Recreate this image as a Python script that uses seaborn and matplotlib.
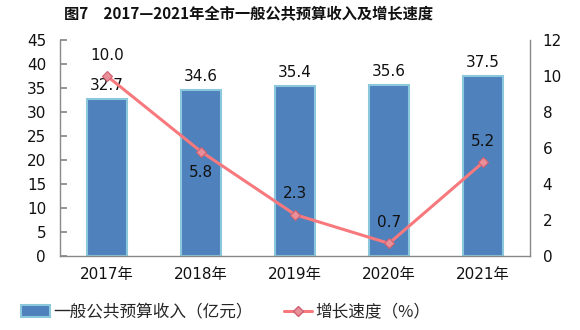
import matplotlib
matplotlib.use("Agg")
import matplotlib.pyplot as plt
import seaborn as sns
import pandas as pd
from matplotlib.patches import Patch
from matplotlib.lines import Line2D

years = ["2017年", "2018年", "2019年", "2020年", "2021年"]
revenue = [32.7, 34.6, 35.4, 35.6, 37.5]
growth = [10.0, 5.8, 2.3, 0.7, 5.2]
growth_label_above = [True, False, True, True, True]

sns.set_theme(style="white")
plt.rcParams['font.family'] = ['DejaVu Sans', 'Noto Sans CJK SC']

df = pd.DataFrame({"year": years, "revenue": revenue, "growth": growth})

fig = plt.figure(figsize=(5.8, 3.3), dpi=100)
ax = fig.add_axes([60/580, 1-256/330, 470/580, 216/330])

bar_color = "#4F81BD"
edge_color = "#8CC8DC"
line_color = "#F7797D"

sns.barplot(data=df, x="year", y="revenue", ax=ax, color=bar_color,
            width=0.43, edgecolor=edge_color, linewidth=1.5, saturation=1)
ax.set_ylim(0, 45)
ax.set_yticks(range(0, 46, 5))
ax.set_xlim(-0.5, 4.5)
ax.set_xlabel("")
ax.set_ylabel("")
for i, v in enumerate(revenue):
    ax.text(i, v + 1.2, f"{v:.1f}", ha="center", va="bottom", fontsize=11, color="#111111")

ax2 = ax.twinx()
sns.lineplot(x=list(range(len(years))), y=growth, ax=ax2, color=line_color,
             linewidth=2.2, marker="D", markersize=5.5,
             markerfacecolor="#E8909A", markeredgecolor="#D06070", markeredgewidth=0.8)
ax2.set_ylim(0, 12)
ax2.set_yticks(range(0, 13, 2))
ax2.set_xlim(-0.5, 4.5)
for i, (v, up) in enumerate(zip(growth, growth_label_above)):
    if up:
        ax2.text(i, v + 0.75, f"{v:.1f}", ha="center", va="bottom", fontsize=11, color="#111111")
    else:
        ax2.text(i, v - 0.75, f"{v:.1f}", ha="center", va="top", fontsize=11, color="#111111")

for a in (ax, ax2):
    for s in a.spines.values():
        s.set_visible(False)
ax.spines['left'].set_visible(True)
ax.spines['bottom'].set_visible(True)
ax2.spines['right'].set_visible(True)
for s in (ax.spines['left'], ax.spines['bottom'], ax2.spines['right']):
    s.set_color("#888888")
    s.set_linewidth(1.0)

ax.tick_params(axis='y', direction='in', length=5, color="#888888", left=True, labelsize=11, labelcolor="#111111", pad=10)
ax.tick_params(axis='x', length=0, labelsize=11, labelcolor="#111111", pad=8)
ax2.tick_params(axis='y', length=0, right=False, labelsize=11, labelcolor="#111111", pad=9)

fig.text(249/580, 1-14/330, "图7　2017—2021年全市一般公共预算收入及增长速度",
         ha="center", va="center", fontsize=11, fontweight="bold",
         family=['Noto Sans CJK SC', 'DejaVu Sans'], color="#111111")

handles = [Patch(facecolor=bar_color, edgecolor=edge_color, linewidth=1.5, label="一般公共预算收入（亿元）"),
           Line2D([0], [0], color=line_color, linewidth=2.2, marker="D", markersize=5,
                  markerfacecolor="#E8909A", markeredgecolor="#D06070", label="增长速度（%）")]
fig.legend(handles=handles, loc="center", bbox_to_anchor=(226/580, 1-312/330), ncol=2,
           frameon=False, prop={'family': ['Noto Sans CJK SC', 'DejaVu Sans'], 'size': 12},
           handlelength=1.7, handletextpad=0.2, columnspacing=1.9)

fig.savefig("out.png", dpi=100)
